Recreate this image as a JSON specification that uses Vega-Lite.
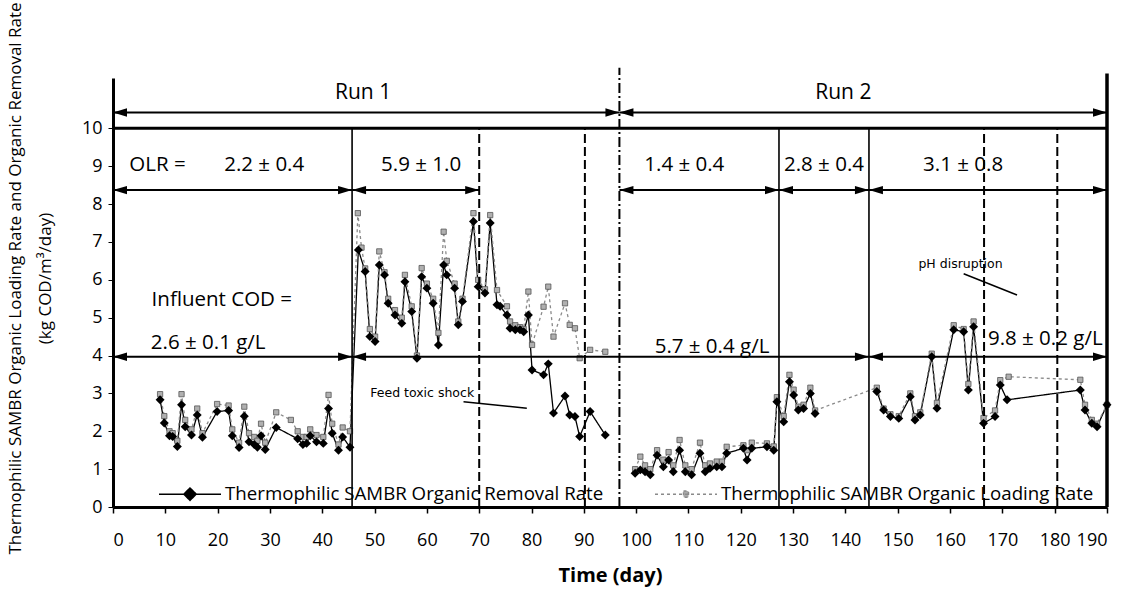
{
  "$schema": "https://vega.github.io/schema/vega-lite/v6.json",
  "width": 994,
  "height": 429,
  "autosize": {"type": "none"},
  "padding": {"left": 113, "top": 78, "right": 27, "bottom": 89},
  "background": "white",
  "config": {"view": {"stroke": null}, "font": "Open Sans", "text": {"font": "Open Sans"}},
  "datasets": {
    "series": [
      {"d": 9.0, "v": 2.83, "s": "R", "g": 1}, {"d": 9.8, "v": 2.22, "s": "R", "g": 1}, {"d": 10.8, "v": 1.88, "s": "R", "g": 1},
      {"d": 11.4, "v": 1.86, "s": "R", "g": 1}, {"d": 12.3, "v": 1.6, "s": "R", "g": 1}, {"d": 13.1, "v": 2.7, "s": "R", "g": 1},
      {"d": 13.8, "v": 2.12, "s": "R", "g": 1}, {"d": 15.0, "v": 1.9, "s": "R", "g": 1}, {"d": 16.1, "v": 2.43, "s": "R", "g": 1},
      {"d": 17.1, "v": 1.84, "s": "R", "g": 1}, {"d": 19.9, "v": 2.52, "s": "R", "g": 1}, {"d": 22.1, "v": 2.55, "s": "R", "g": 1},
      {"d": 22.8, "v": 1.88, "s": "R", "g": 1}, {"d": 24.1, "v": 1.57, "s": "R", "g": 1}, {"d": 25.1, "v": 2.4, "s": "R", "g": 1},
      {"d": 26.0, "v": 1.72, "s": "R", "g": 1}, {"d": 27.0, "v": 1.65, "s": "R", "g": 1}, {"d": 27.6, "v": 1.58, "s": "R", "g": 1},
      {"d": 28.3, "v": 1.88, "s": "R", "g": 1}, {"d": 29.1, "v": 1.52, "s": "R", "g": 1}, {"d": 31.2, "v": 2.1, "s": "R", "g": 1},
      {"d": 35.3, "v": 1.8, "s": "R", "g": 1}, {"d": 36.3, "v": 1.65, "s": "R", "g": 1}, {"d": 37.0, "v": 1.68, "s": "R", "g": 1},
      {"d": 37.7, "v": 1.88, "s": "R", "g": 1}, {"d": 38.9, "v": 1.72, "s": "R", "g": 1}, {"d": 40.2, "v": 1.68, "s": "R", "g": 1},
      {"d": 41.2, "v": 2.6, "s": "R", "g": 1}, {"d": 41.9, "v": 1.95, "s": "R", "g": 1}, {"d": 43.1, "v": 1.5, "s": "R", "g": 1},
      {"d": 43.9, "v": 1.85, "s": "R", "g": 1}, {"d": 45.3, "v": 1.58, "s": "R", "g": 1},
      {"d": 46.9, "v": 6.79, "s": "R", "g": 1}, {"d": 48.2, "v": 6.22, "s": "R", "g": 1}, {"d": 49.1, "v": 4.5, "s": "R", "g": 1},
      {"d": 50.1, "v": 4.37, "s": "R", "g": 1}, {"d": 50.9, "v": 6.39, "s": "R", "g": 1}, {"d": 51.9, "v": 6.13, "s": "R", "g": 1},
      {"d": 52.6, "v": 5.38, "s": "R", "g": 1}, {"d": 53.9, "v": 5.07, "s": "R", "g": 1}, {"d": 55.2, "v": 4.85, "s": "R", "g": 1},
      {"d": 55.8, "v": 5.95, "s": "R", "g": 1}, {"d": 57.1, "v": 5.16, "s": "R", "g": 1}, {"d": 58.1, "v": 3.93, "s": "R", "g": 1},
      {"d": 59.0, "v": 6.08, "s": "R", "g": 1}, {"d": 60.0, "v": 5.78, "s": "R", "g": 1}, {"d": 61.2, "v": 5.38, "s": "R", "g": 1},
      {"d": 62.2, "v": 4.28, "s": "R", "g": 1}, {"d": 63.2, "v": 6.39, "s": "R", "g": 1}, {"d": 63.8, "v": 6.13, "s": "R", "g": 1},
      {"d": 65.3, "v": 5.78, "s": "R", "g": 1}, {"d": 66.0, "v": 4.81, "s": "R", "g": 1}, {"d": 66.8, "v": 5.43, "s": "R", "g": 1},
      {"d": 68.9, "v": 7.54, "s": "R", "g": 1}, {"d": 69.8, "v": 5.82, "s": "R", "g": 1}, {"d": 71.1, "v": 5.65, "s": "R", "g": 1},
      {"d": 72.1, "v": 7.5, "s": "R", "g": 1}, {"d": 73.4, "v": 5.34, "s": "R", "g": 1}, {"d": 74.0, "v": 5.3, "s": "R", "g": 1},
      {"d": 75.3, "v": 5.07, "s": "R", "g": 1}, {"d": 75.9, "v": 4.72, "s": "R", "g": 1}, {"d": 76.9, "v": 4.68, "s": "R", "g": 1},
      {"d": 77.8, "v": 4.68, "s": "R", "g": 1}, {"d": 78.5, "v": 4.63, "s": "R", "g": 1}, {"d": 79.4, "v": 5.07, "s": "R", "g": 1},
      {"d": 80.1, "v": 3.62, "s": "R", "g": 1}, {"d": 82.3, "v": 3.49, "s": "R", "g": 1}, {"d": 83.2, "v": 3.78, "s": "R", "g": 1},
      {"d": 84.2, "v": 2.48, "s": "R", "g": 1}, {"d": 86.4, "v": 2.93, "s": "R", "g": 1}, {"d": 87.3, "v": 2.43, "s": "R", "g": 1},
      {"d": 88.3, "v": 2.39, "s": "R", "g": 1}, {"d": 89.2, "v": 1.86, "s": "R", "g": 1}, {"d": 91.2, "v": 2.52, "s": "R", "g": 1},
      {"d": 94.1, "v": 1.9, "s": "R", "g": 1},
      {"d": 99.8, "v": 0.89, "s": "R", "g": 2}, {"d": 100.8, "v": 0.98, "s": "R", "g": 2}, {"d": 101.7, "v": 0.93, "s": "R", "g": 2},
      {"d": 102.7, "v": 0.85, "s": "R", "g": 2}, {"d": 104.0, "v": 1.37, "s": "R", "g": 2}, {"d": 105.2, "v": 1.06, "s": "R", "g": 2},
      {"d": 106.2, "v": 1.24, "s": "R", "g": 2}, {"d": 107.1, "v": 0.93, "s": "R", "g": 2}, {"d": 108.3, "v": 1.5, "s": "R", "g": 2},
      {"d": 109.4, "v": 0.93, "s": "R", "g": 2}, {"d": 110.6, "v": 0.85, "s": "R", "g": 2}, {"d": 112.2, "v": 1.42, "s": "R", "g": 2},
      {"d": 113.2, "v": 0.93, "s": "R", "g": 2}, {"d": 114.1, "v": 1.02, "s": "R", "g": 2}, {"d": 115.4, "v": 1.06, "s": "R", "g": 2},
      {"d": 116.4, "v": 1.06, "s": "R", "g": 2}, {"d": 117.3, "v": 1.42, "s": "R", "g": 2}, {"d": 120.5, "v": 1.55, "s": "R", "g": 2},
      {"d": 121.2, "v": 1.24, "s": "R", "g": 2}, {"d": 122.1, "v": 1.55, "s": "R", "g": 2}, {"d": 125.0, "v": 1.59, "s": "R", "g": 2},
      {"d": 126.3, "v": 1.5, "s": "R", "g": 2}, {"d": 126.9, "v": 2.78, "s": "R", "g": 2}, {"d": 128.2, "v": 2.25, "s": "R", "g": 2},
      {"d": 129.3, "v": 3.31, "s": "R", "g": 2}, {"d": 130.1, "v": 2.96, "s": "R", "g": 2}, {"d": 131.0, "v": 2.56, "s": "R", "g": 2},
      {"d": 132.0, "v": 2.6, "s": "R", "g": 2}, {"d": 133.3, "v": 3.0, "s": "R", "g": 2}, {"d": 134.2, "v": 2.47, "s": "R", "g": 2},
      {"d": 146.0, "v": 3.05, "s": "R", "g": 3}, {"d": 147.3, "v": 2.56, "s": "R", "g": 3}, {"d": 148.6, "v": 2.39, "s": "R", "g": 3},
      {"d": 150.2, "v": 2.34, "s": "R", "g": 3}, {"d": 152.4, "v": 2.91, "s": "R", "g": 3}, {"d": 153.3, "v": 2.3, "s": "R", "g": 3},
      {"d": 154.3, "v": 2.43, "s": "R", "g": 3}, {"d": 156.5, "v": 3.97, "s": "R", "g": 3}, {"d": 157.5, "v": 2.61, "s": "R", "g": 3},
      {"d": 160.7, "v": 4.68, "s": "R", "g": 3}, {"d": 162.6, "v": 4.63, "s": "R", "g": 3}, {"d": 163.5, "v": 3.09, "s": "R", "g": 3},
      {"d": 164.5, "v": 4.76, "s": "R", "g": 3}, {"d": 166.4, "v": 2.21, "s": "R", "g": 3}, {"d": 168.6, "v": 2.39, "s": "R", "g": 3},
      {"d": 169.6, "v": 3.22, "s": "R", "g": 3}, {"d": 170.9, "v": 2.83, "s": "R", "g": 3}, {"d": 184.9, "v": 3.09, "s": "R", "g": 3},
      {"d": 185.8, "v": 2.56, "s": "R", "g": 3}, {"d": 187.1, "v": 2.21, "s": "R", "g": 3}, {"d": 188.1, "v": 2.12, "s": "R", "g": 3},
      {"d": 190.0, "v": 2.7, "s": "R", "g": 3},

      {"d": 9.0, "v": 2.98, "s": "L", "g": 1}, {"d": 9.8, "v": 2.4, "s": "L", "g": 1}, {"d": 10.8, "v": 2.0, "s": "L", "g": 1},
      {"d": 11.4, "v": 1.95, "s": "L", "g": 1}, {"d": 12.3, "v": 1.75, "s": "L", "g": 1}, {"d": 13.1, "v": 2.98, "s": "L", "g": 1},
      {"d": 13.8, "v": 2.3, "s": "L", "g": 1}, {"d": 15.0, "v": 2.05, "s": "L", "g": 1}, {"d": 16.1, "v": 2.6, "s": "L", "g": 1},
      {"d": 17.1, "v": 1.95, "s": "L", "g": 1}, {"d": 19.9, "v": 2.72, "s": "L", "g": 1}, {"d": 22.1, "v": 2.68, "s": "L", "g": 1},
      {"d": 22.8, "v": 2.05, "s": "L", "g": 1}, {"d": 24.1, "v": 1.7, "s": "L", "g": 1}, {"d": 25.1, "v": 2.65, "s": "L", "g": 1},
      {"d": 26.0, "v": 1.95, "s": "L", "g": 1}, {"d": 27.0, "v": 1.85, "s": "L", "g": 1}, {"d": 27.6, "v": 1.75, "s": "L", "g": 1},
      {"d": 28.3, "v": 2.2, "s": "L", "g": 1}, {"d": 29.1, "v": 1.7, "s": "L", "g": 1}, {"d": 31.2, "v": 2.5, "s": "L", "g": 1},
      {"d": 34.0, "v": 2.3, "s": "L", "g": 1}, {"d": 35.3, "v": 2.0, "s": "L", "g": 1}, {"d": 36.3, "v": 1.85, "s": "L", "g": 1},
      {"d": 37.0, "v": 1.85, "s": "L", "g": 1}, {"d": 37.7, "v": 2.05, "s": "L", "g": 1}, {"d": 38.9, "v": 1.9, "s": "L", "g": 1},
      {"d": 40.2, "v": 1.85, "s": "L", "g": 1}, {"d": 41.2, "v": 2.96, "s": "L", "g": 1}, {"d": 41.9, "v": 2.2, "s": "L", "g": 1},
      {"d": 43.1, "v": 1.65, "s": "L", "g": 1}, {"d": 43.9, "v": 2.1, "s": "L", "g": 1}, {"d": 45.3, "v": 2.0, "s": "L", "g": 1},
      {"d": 46.8, "v": 7.76, "s": "L", "g": 1}, {"d": 47.5, "v": 6.85, "s": "L", "g": 1}, {"d": 48.2, "v": 6.3, "s": "L", "g": 1},
      {"d": 49.1, "v": 4.7, "s": "L", "g": 1}, {"d": 50.1, "v": 4.5, "s": "L", "g": 1}, {"d": 50.9, "v": 6.75, "s": "L", "g": 1},
      {"d": 51.9, "v": 6.2, "s": "L", "g": 1}, {"d": 52.6, "v": 5.5, "s": "L", "g": 1}, {"d": 53.9, "v": 5.2, "s": "L", "g": 1},
      {"d": 55.2, "v": 5.0, "s": "L", "g": 1}, {"d": 55.8, "v": 6.13, "s": "L", "g": 1}, {"d": 57.1, "v": 5.3, "s": "L", "g": 1},
      {"d": 58.1, "v": 4.0, "s": "L", "g": 1}, {"d": 59.0, "v": 6.31, "s": "L", "g": 1}, {"d": 60.0, "v": 5.9, "s": "L", "g": 1},
      {"d": 61.2, "v": 5.5, "s": "L", "g": 1}, {"d": 62.2, "v": 4.6, "s": "L", "g": 1}, {"d": 63.2, "v": 7.27, "s": "L", "g": 1},
      {"d": 63.8, "v": 6.5, "s": "L", "g": 1}, {"d": 65.3, "v": 5.9, "s": "L", "g": 1}, {"d": 66.0, "v": 4.9, "s": "L", "g": 1},
      {"d": 66.8, "v": 5.5, "s": "L", "g": 1}, {"d": 68.9, "v": 7.76, "s": "L", "g": 1}, {"d": 69.8, "v": 6.0, "s": "L", "g": 1},
      {"d": 71.1, "v": 5.75, "s": "L", "g": 1}, {"d": 72.1, "v": 7.71, "s": "L", "g": 1}, {"d": 73.4, "v": 5.73, "s": "L", "g": 1},
      {"d": 75.3, "v": 5.3, "s": "L", "g": 1}, {"d": 75.9, "v": 4.9, "s": "L", "g": 1}, {"d": 76.9, "v": 4.8, "s": "L", "g": 1},
      {"d": 77.8, "v": 4.75, "s": "L", "g": 1}, {"d": 78.5, "v": 4.7, "s": "L", "g": 1}, {"d": 79.4, "v": 5.69, "s": "L", "g": 1},
      {"d": 80.1, "v": 4.28, "s": "L", "g": 1}, {"d": 82.3, "v": 5.29, "s": "L", "g": 1}, {"d": 83.2, "v": 5.82, "s": "L", "g": 1},
      {"d": 84.2, "v": 4.5, "s": "L", "g": 1}, {"d": 86.4, "v": 5.38, "s": "L", "g": 1}, {"d": 87.3, "v": 4.81, "s": "L", "g": 1},
      {"d": 88.3, "v": 4.72, "s": "L", "g": 1}, {"d": 89.2, "v": 3.93, "s": "L", "g": 1}, {"d": 91.2, "v": 4.15, "s": "L", "g": 1},
      {"d": 94.1, "v": 4.1, "s": "L", "g": 1},
      {"d": 99.8, "v": 1.0, "s": "L", "g": 2}, {"d": 100.8, "v": 1.33, "s": "L", "g": 2}, {"d": 101.7, "v": 1.1, "s": "L", "g": 2},
      {"d": 102.7, "v": 1.0, "s": "L", "g": 2}, {"d": 104.0, "v": 1.5, "s": "L", "g": 2}, {"d": 105.2, "v": 1.25, "s": "L", "g": 2},
      {"d": 106.2, "v": 1.45, "s": "L", "g": 2}, {"d": 107.1, "v": 1.1, "s": "L", "g": 2}, {"d": 108.3, "v": 1.77, "s": "L", "g": 2},
      {"d": 109.4, "v": 1.1, "s": "L", "g": 2}, {"d": 110.6, "v": 1.0, "s": "L", "g": 2}, {"d": 112.2, "v": 1.7, "s": "L", "g": 2},
      {"d": 113.2, "v": 1.1, "s": "L", "g": 2}, {"d": 114.1, "v": 1.15, "s": "L", "g": 2}, {"d": 115.4, "v": 1.2, "s": "L", "g": 2},
      {"d": 116.4, "v": 1.2, "s": "L", "g": 2}, {"d": 117.3, "v": 1.59, "s": "L", "g": 2}, {"d": 120.5, "v": 1.63, "s": "L", "g": 2},
      {"d": 121.2, "v": 1.5, "s": "L", "g": 2}, {"d": 122.1, "v": 1.7, "s": "L", "g": 2}, {"d": 125.0, "v": 1.68, "s": "L", "g": 2},
      {"d": 126.3, "v": 1.6, "s": "L", "g": 2}, {"d": 126.9, "v": 2.9, "s": "L", "g": 2}, {"d": 128.2, "v": 2.4, "s": "L", "g": 2},
      {"d": 129.3, "v": 3.49, "s": "L", "g": 2}, {"d": 130.1, "v": 3.1, "s": "L", "g": 2}, {"d": 131.0, "v": 2.65, "s": "L", "g": 2},
      {"d": 132.0, "v": 2.7, "s": "L", "g": 2}, {"d": 133.3, "v": 3.15, "s": "L", "g": 2}, {"d": 134.2, "v": 2.55, "s": "L", "g": 2},
      {"d": 146.0, "v": 3.15, "s": "L", "g": 2}, {"d": 147.3, "v": 2.6, "s": "L", "g": 2}, {"d": 148.6, "v": 2.45, "s": "L", "g": 2},
      {"d": 150.2, "v": 2.4, "s": "L", "g": 2}, {"d": 152.4, "v": 3.0, "s": "L", "g": 2}, {"d": 153.3, "v": 2.4, "s": "L", "g": 2},
      {"d": 154.3, "v": 2.5, "s": "L", "g": 2}, {"d": 156.5, "v": 4.05, "s": "L", "g": 2}, {"d": 157.5, "v": 2.75, "s": "L", "g": 2},
      {"d": 160.7, "v": 4.8, "s": "L", "g": 2}, {"d": 162.6, "v": 4.7, "s": "L", "g": 2}, {"d": 163.5, "v": 3.25, "s": "L", "g": 2},
      {"d": 164.5, "v": 4.9, "s": "L", "g": 2}, {"d": 166.4, "v": 2.35, "s": "L", "g": 2}, {"d": 168.6, "v": 2.55, "s": "L", "g": 2},
      {"d": 169.6, "v": 3.35, "s": "L", "g": 2}, {"d": 171.2, "v": 3.44, "s": "L", "g": 2}, {"d": 184.9, "v": 3.36, "s": "L", "g": 2},
      {"d": 185.8, "v": 2.7, "s": "L", "g": 2}, {"d": 187.1, "v": 2.3, "s": "L", "g": 2}, {"d": 188.1, "v": 2.2, "s": "L", "g": 2},
      {"d": 190.0, "v": 2.7, "s": "L", "g": 2}
    ],
    "vlines": [
      {"d": 45.7, "y0": 0, "y1": 10, "k": "solid"},
      {"d": 127.3, "y0": 0, "y1": 10, "k": "solid"},
      {"d": 144.5, "y0": 0, "y1": 10, "k": "solid"},
      {"d": 70.0, "y0": 0, "y1": 10, "k": "dash"},
      {"d": 90.2, "y0": 0, "y1": 10, "k": "dash"},
      {"d": 166.5, "y0": 0, "y1": 10, "k": "dash"},
      {"d": 180.5, "y0": 0, "y1": 10, "k": "dash"},
      {"d": 96.8, "y0": 0, "y1": 11.6, "k": "dashdot"},
      {"d": 190, "y0": 0, "y1": 11.45, "k": "border"}
    ],
    "hlines": [{"x1": 0, "x2": 190, "y": 10}],
    "arrows": [
      {"x1": 0, "x2": 96.8, "y": 10.42},
      {"x1": 96.8, "x2": 190, "y": 10.42},
      {"x1": 0, "x2": 45.7, "y": 8.37},
      {"x1": 45.7, "x2": 70, "y": 8.37},
      {"x1": 96.8, "x2": 127.3, "y": 8.37},
      {"x1": 127.3, "x2": 144.5, "y": 8.37},
      {"x1": 144.5, "x2": 190, "y": 8.37},
      {"x1": 0, "x2": 45.7, "y": 3.97},
      {"x1": 45.7, "x2": 144.5, "y": 3.97},
      {"x1": 144.5, "x2": 190, "y": 3.97}
    ],
    "labels": [
      {"d": 47.8, "v": 10.94, "t": "Run 1", "k": "run"},
      {"d": 139.6, "v": 10.94, "t": "Run 2", "k": "run"},
      {"d": 8.5, "v": 9.03, "t": "OLR =", "k": "big"},
      {"d": 28.9, "v": 9.03, "t": "2.2 ± 0.4", "k": "big"},
      {"d": 58.9, "v": 9.03, "t": "5.9 ± 1.0", "k": "big"},
      {"d": 109.2, "v": 9.03, "t": "1.4 ± 0.4", "k": "big"},
      {"d": 135.9, "v": 9.03, "t": "2.8 ± 0.4", "k": "big"},
      {"d": 162.5, "v": 9.03, "t": "3.1 ± 0.8", "k": "big"},
      {"d": 20.8, "v": 5.47, "t": "Influent COD =", "k": "big"},
      {"d": 18.2, "v": 4.33, "t": "2.6 ± 0.1 g/L", "k": "big"},
      {"d": 114.5, "v": 4.23, "t": "5.7 ± 0.4 g/L", "k": "big"},
      {"d": 178.2, "v": 4.44, "t": "9.8 ± 0.2 g/L", "k": "big"},
      {"d": 59.1, "v": 3.0, "t": "Feed toxic shock", "k": "small"},
      {"d": 162.0, "v": 6.42, "t": "pH disruption", "k": "small"}
    ],
    "leaders": [
      {"x1": 67.0, "y1": 2.78, "x2": 79.1, "y2": 2.61},
      {"x1": 162.6, "y1": 6.16, "x2": 172.8, "y2": 5.6}
    ]
  },
  "layer": [
    {
      "data": {"name": "series"},
      "mark": {"type": "line", "strokeWidth": 1.3},
      "encoding": {
        "x": {"field": "d", "type": "quantitative", "scale": {"domain": [0, 190], "nice": false},
          "axis": {"values": [0,10,20,30,40,50,60,70,80,90,100,110,120,130,140,150,160,170,180,190], "title": "Time (day)",
            "titleFontSize": 20, "titleFontWeight": "bold", "titleColor": "black", "titlePadding": 16,
            "labelFontSize": 18, "labelColor": "black", "labelPadding": 18, "tickSize": 6, "tickColor": "black", "tickWidth": 1.5,
            "domainWidth": 3, "domainColor": "black", "grid": false}},
        "y": {"field": "v", "type": "quantitative", "scale": {"domain": [0, 11.33], "nice": false},
          "axis": {"values": [0,1,2,3,4,5,6,7,8,9,10],
            "title": ["Thermophilic SAMBR Organic Loading Rate and Organic Removal Rate", "(kg COD/m³/day)"],
            "titleFontSize": 17, "titleFontWeight": "normal", "titleColor": "black", "titleAngle": -90,
            "titleX": -98, "titleY": 200, "titleAlign": "center", "titleBaseline": "middle", "titleLineHeight": 30,
            "labelFontSize": 18, "labelColor": "black", "labelPadding": 6, "tickSize": 5, "tickColor": "black",
            "domainWidth": 3, "domainColor": "black", "grid": false}},
        "color": {"field": "s", "type": "nominal", "scale": {"domain": ["R", "L"], "range": ["#000000", "#8a8a8a"]},
          "legend": {"orient": "none", "legendX": 45, "legendY": 384, "direction": "horizontal", "title": null, "padding": 0,
            "labelFontSize": 18.7, "labelColor": "black", "labelLimit": 600, "labelOffset": 3, "columnPadding": 48,
            "symbolSize": 3844, "symbolStrokeWidth": 1.5,
            "symbolType": "M-1,0H1M0,-0.2L0.2,0L0,0.2L-0.2,0Z",
            "labelExpr": "datum.value == 'R' ? 'Thermophilic SAMBR Organic Removal Rate' : 'Thermophilic SAMBR Organic Loading Rate'",
            "encode": {"symbols": {"update": {
              "shape": {"signal": "datum.value == 'L' ? 'M-1,0H1M-0.08,-0.1H0.08V0.1H-0.08Z' : 'M-1,0H1M0,-0.2L0.2,0L0,0.2L-0.2,0Z'"},
              "fill": {"signal": "datum.value == 'L' ? '#aaaaaa' : '#000000'"},
              "stroke": {"signal": "datum.value == 'L' ? '#666666' : '#000000'"},
              "strokeDash": {"signal": "datum.value == 'L' ? [4, 3] : [1, 0]"}
            }}}}},
        "strokeDash": {"field": "s", "type": "nominal", "scale": {"domain": ["R", "L"], "range": [[1, 0], [3, 3]]}, "legend": null},
        "detail": {"field": "g"}
      }
    },
    {
      "data": {"name": "series"},
      "transform": [{"filter": "datum.s == 'L'"}],
      "mark": {"type": "point", "shape": "square", "filled": true, "size": 28, "fill": "#b0b0b0", "stroke": "#555555", "strokeWidth": 0.8, "opacity": 1},
      "encoding": {
        "x": {"field": "d", "type": "quantitative"},
        "y": {"field": "v", "type": "quantitative"}
      }
    },
    {
      "data": {"name": "series"},
      "transform": [{"filter": "datum.s == 'R'"}],
      "mark": {"type": "point", "shape": "diamond", "filled": true, "size": 80, "color": "#000000", "opacity": 1},
      "encoding": {
        "x": {"field": "d", "type": "quantitative"},
        "y": {"field": "v", "type": "quantitative"}
      }
    },
    {
      "data": {"name": "hlines"},
      "mark": {"type": "rule", "color": "black", "strokeWidth": 3},
      "encoding": {
        "x": {"field": "x1", "type": "quantitative"},
        "x2": {"field": "x2"},
        "y": {"field": "y", "type": "quantitative"}
      }
    },
    {
      "data": {"name": "vlines"},
      "transform": [{"filter": "datum.k == 'solid'"}],
      "mark": {"type": "rule", "color": "black", "strokeWidth": 1.6},
      "encoding": {
        "x": {"field": "d", "type": "quantitative"},
        "y": {"field": "y0", "type": "quantitative"},
        "y2": {"field": "y1"}
      }
    },
    {
      "data": {"name": "vlines"},
      "transform": [{"filter": "datum.k == 'dash'"}],
      "mark": {"type": "rule", "color": "black", "strokeWidth": 2, "strokeDash": [9, 4]},
      "encoding": {
        "x": {"field": "d", "type": "quantitative"},
        "y": {"field": "y0", "type": "quantitative"},
        "y2": {"field": "y1"}
      }
    },
    {
      "data": {"name": "vlines"},
      "transform": [{"filter": "datum.k == 'dashdot'"}],
      "mark": {"type": "rule", "color": "black", "strokeWidth": 2, "strokeDash": [10, 3, 2, 3]},
      "encoding": {
        "x": {"field": "d", "type": "quantitative"},
        "y": {"field": "y0", "type": "quantitative"},
        "y2": {"field": "y1"}
      }
    },
    {
      "data": {"name": "vlines"},
      "transform": [{"filter": "datum.k == 'border'"}],
      "mark": {"type": "rule", "color": "black", "strokeWidth": 3.5},
      "encoding": {
        "x": {"field": "d", "type": "quantitative"},
        "y": {"field": "y0", "type": "quantitative"},
        "y2": {"field": "y1"}
      }
    },
    {
      "data": {"name": "arrows"},
      "mark": {"type": "rule", "color": "black", "strokeWidth": 2},
      "encoding": {
        "x": {"field": "x1", "type": "quantitative"},
        "x2": {"field": "x2"},
        "y": {"field": "y", "type": "quantitative"}
      }
    },
    {
      "data": {"name": "arrows"},
      "mark": {"type": "point", "shape": "M-1,0L1,-0.6L1,0.6Z", "filled": true, "color": "black", "size": 196, "xOffset": 7, "opacity": 1},
      "encoding": {
        "x": {"field": "x1", "type": "quantitative"},
        "y": {"field": "y", "type": "quantitative"}
      }
    },
    {
      "data": {"name": "arrows"},
      "mark": {"type": "point", "shape": "M1,0L-1,-0.6L-1,0.6Z", "filled": true, "color": "black", "size": 196, "xOffset": -7, "opacity": 1},
      "encoding": {
        "x": {"field": "x2", "type": "quantitative"},
        "y": {"field": "y", "type": "quantitative"}
      }
    },
    {
      "data": {"name": "leaders"},
      "mark": {"type": "rule", "color": "black", "strokeWidth": 1.5},
      "encoding": {
        "x": {"field": "x1", "type": "quantitative"},
        "y": {"field": "y1", "type": "quantitative"},
        "x2": {"field": "x2"},
        "y2": {"field": "y2"}
      }
    },
    {
      "data": {"name": "labels"},
      "transform": [{"filter": "datum.k == 'big'"}],
      "mark": {"type": "text", "fontSize": 20.5, "color": "black", "align": "center", "baseline": "middle"},
      "encoding": {
        "x": {"field": "d", "type": "quantitative"},
        "y": {"field": "v", "type": "quantitative"},
        "text": {"field": "t"}
      }
    },
    {
      "data": {"name": "labels"},
      "transform": [{"filter": "datum.k == 'run'"}],
      "mark": {"type": "text", "fontSize": 21, "color": "black", "align": "center", "baseline": "middle"},
      "encoding": {
        "x": {"field": "d", "type": "quantitative"},
        "y": {"field": "v", "type": "quantitative"},
        "text": {"field": "t"}
      }
    },
    {
      "data": {"name": "labels"},
      "transform": [{"filter": "datum.k == 'small'"}],
      "mark": {"type": "text", "font": "DejaVu Sans", "fontSize": 12.5, "color": "black", "align": "center", "baseline": "middle"},
      "encoding": {
        "x": {"field": "d", "type": "quantitative"},
        "y": {"field": "v", "type": "quantitative"},
        "text": {"field": "t"}
      }
    }
  ]
}
